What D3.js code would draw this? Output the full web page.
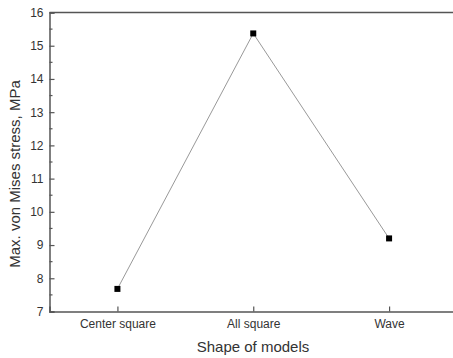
<!DOCTYPE html>
<html>
<head>
<meta charset="utf-8">
<script src="https://cdn.jsdelivr.net/npm/d3@7"></script>
<style>
  html, body { margin: 0; padding: 0; background: #fff; }
  svg { display: block; }
  text { font-family: Arial, "Liberation Sans", sans-serif; fill: #333; }
</style>
</head>
<body>
<script>
// Maximum von Mises stress for each model shape
const shapes = ["Center square", "All square", "Wave"];
const stress = [7.68, 15.37, 9.2];
const yTicks = [7, 8, 9, 10, 11, 12, 13, 14, 15, 16];
const yMinorTicks = [7.5, 8.5, 9.5, 10.5, 11.5, 12.5, 13.5, 14.5, 15.5];

const W = 453, H = 358;
const plotLeft = 49.5, plotTop = 12.5, plotBottom = 311.5, plotRight = 457;

const svg = d3.select("body").append("svg")
  .attr("width", W).attr("height", H);

const x = d3.scalePoint().domain(shapes).range([plotLeft, plotRight]).padding(0.5);
const y = d3.scaleLinear().domain([7, 16]).range([plotBottom, plotTop]);

const axisColor = "#555";

// top frame line runs out to the right edge
svg.append("line").attr("x1", plotLeft).attr("x2", W + 5).attr("y1", plotTop).attr("y2", plotTop)
  .attr("stroke", axisColor).attr("stroke-width", 1.5);

// y axis (ticks drawn inward)
const yAxis = svg.append("g").attr("transform", `translate(${plotLeft},0)`)
  .call(d3.axisLeft(y).tickValues(yTicks).tickSize(-5).tickPadding(6).tickFormat(d3.format("d")));
yAxis.select(".domain").attr("stroke", axisColor).attr("stroke-width", 1.5);
yAxis.selectAll(".tick line").attr("stroke", axisColor).attr("stroke-width", 1.2);
yAxis.selectAll(".tick text").attr("font-size", "12px").attr("fill", "#333");

svg.append("g").selectAll("line").data(yMinorTicks).join("line")
  .attr("x1", plotLeft).attr("x2", plotLeft + 3)
  .attr("y1", d => y(d)).attr("y2", d => y(d))
  .attr("stroke", axisColor).attr("stroke-width", 1.2);

// x axis (ticks drawn inward)
const xAxis = svg.append("g").attr("transform", `translate(0,${plotBottom})`)
  .call(d3.axisBottom(x).tickSize(-5).tickPadding(7.5));
xAxis.select(".domain").attr("stroke", axisColor).attr("stroke-width", 1.5);
xAxis.selectAll(".tick line").attr("stroke", axisColor).attr("stroke-width", 1.2);
xAxis.selectAll(".tick text").attr("font-size", "12px").attr("fill", "#333");

// axis titles
svg.append("text")
  .attr("x", 253).attr("y", 352)
  .attr("text-anchor", "middle").attr("font-size", "15px")
  .text("Shape of models");

svg.append("text")
  .attr("transform", "translate(19.5,174) rotate(-90)")
  .attr("text-anchor", "middle").attr("font-size", "15px")
  .text("Max. von Mises stress, MPa");

// series line and square markers
const pts = shapes.map((s, i) => [x(s), y(stress[i])]);
svg.append("path")
  .attr("d", d3.line()(pts))
  .attr("fill", "none").attr("stroke", "#999").attr("stroke-width", 1);

svg.append("g").selectAll("rect").data(pts).join("rect")
  .attr("x", d => d[0] - 3).attr("y", d => d[1] - 3)
  .attr("width", 6).attr("height", 6)
  .attr("fill", "#000");
</script>
</body>
</html>
